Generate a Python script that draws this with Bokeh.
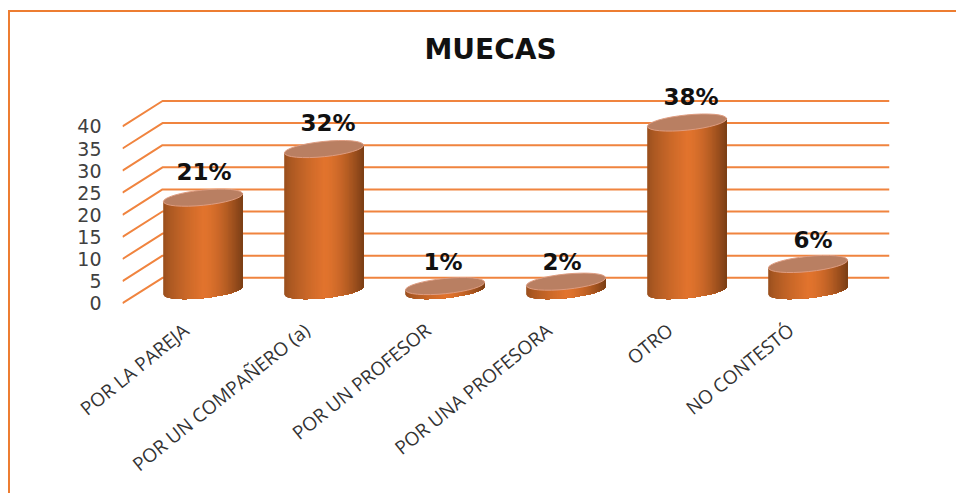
import math
from bokeh.embed import file_html
from bokeh.resources import INLINE
from bokeh.plotting import figure
from bokeh.models import Range1d, FixedTicker
from bokeh.core.properties import value

categories = ["POR LA PAREJA", "POR UN COMPAÑERO (a)", "POR UN PROFESOR",
              "POR UNA PROFESORA", "OTRO", "NO CONTESTÓ"]
values = [21, 32, 1, 2, 38, 6]
labels = ["21%", "32%", "1%", "2%", "38%", "6%"]
y_ticks = [0, 5, 10, 15, 20, 25, 30, 35, 40]
title = "MUECAS"

W, H = 956, 493
# frame in canvas px
F_L, F_R, F_T, F_B = 122, 889, 70, 322
ZERO_Y = 302.7         # canvas y of value 0 on the front plane
PX_X = 121.0           # px per category
PX_Y = 4.42            # px per value unit
DX, DY = 40.0, 25.4    # depth of the 3D floor in px
RX, RY, TILT = 39.8, 7.6, 5.8   # cylinder ellipse
LABEL_SHIFT = 3 / PX_X
LABEL_DX = [1, 4, -2, -4, 4, 5]
LABEL_DY = [-26, -26, -24, -20, -26, -24]

BORDER = "#ED7D31"
p = figure(width=W, height=H, output_backend="svg", toolbar_location=None,
           x_range=Range1d(-0.5, -0.5 + (F_R - F_L) / PX_X),
           y_range=Range1d(-(F_B - ZERO_Y) / PX_Y, (ZERO_Y - F_T) / PX_Y),
           min_border_left=F_L, min_border_right=W - F_R,
           min_border_top=F_T, min_border_bottom=H - F_B,
           title=title, border_fill_color=None, background_fill_color=None,
           styles={"background":
                   f"linear-gradient({BORDER},{BORDER}) 8px 10px/100% 2px no-repeat,"
                   f"linear-gradient({BORDER},{BORDER}) 8px 10px/2px 100% no-repeat"})
p.title.align = "left"
p.title.offset = 302
p.title.text_font = "DejaVu Sans"
p.title.text_font_size = "28px"
p.title.text_font_style = "bold"
p.title.text_color = "#111111"
p.outline_line_color = None
p.grid.visible = False

ax = p.xaxis[0]
ax.ticker = FixedTicker(ticks=[i + LABEL_SHIFT for i in range(len(categories))])
ax.major_label_overrides = {i + LABEL_SHIFT: c for i, c in enumerate(categories)}
ax.major_label_orientation = math.radians(39)
ax.major_label_text_font = "Open Sans"
ax.major_label_text_font_size = "19px"
ax.major_label_text_color = "#333333"
ax.major_label_standoff = -1
ax.axis_line_color = None
ax.major_tick_line_color = None
ax.minor_tick_line_color = None

ay = p.yaxis[0]
ay.ticker = FixedTicker(ticks=y_ticks)
ay.major_label_text_font = "DejaVu Sans"
ay.major_label_text_font_size = "19px"
ay.major_label_text_color = "#404040"
ay.major_label_standoff = 15
ay.axis_line_color = None
ay.major_tick_line_color = None
ay.minor_tick_line_color = None

# Gridlines: front edge -> back wall -> right end
dx_u, dy_u = DX / PX_X, DY / PX_Y
x0 = p.x_range.start
x1 = p.x_range.end
p.multi_line([[x0, x0 + dx_u, x1] for _ in y_ticks],
             [[t, t + dy_u, t + dy_u] for t in y_ticks],
             line_color="#F0843F", line_width=2)


def lerp(a, b, t):
    return tuple(a[k] + (b[k] - a[k]) * t for k in range(3))


def shade(t):
    """t in 0..1 across the cylinder"""
    dark_l, mid, dark_r = (150, 78, 30), (226, 116, 46), (122, 62, 22)
    if t < 0.5:
        c = lerp(dark_l, mid, (t / 0.5) ** 0.7)
    else:
        c = lerp(mid, dark_r, ((t - 0.5) / 0.5) ** 1.6)
    return "#%02x%02x%02x" % tuple(int(v) for v in c)


def lower_edge(t):
    """px offset (upwards) of the lower rim of a tilted ellipse at t in -1..1"""
    th = math.radians(TILT)
    return RX * t * math.tan(th) - RY * math.sqrt(max(0.0, 1 - t * t)) / math.cos(th)


N = 60
ts = [-1 + 2 * k / N for k in range(N + 1)]
xs, ys, cols = [], [], []
top_x, top_y = [], []
for i, v in enumerate(values):
    cx = i + (DX / 2) / PX_X
    base = (DY / 2) / PX_Y
    top_x.append(cx)
    top_y.append(base + v)
    # each band reaches to the right edge and the next band paints over it, so no seams
    for k in range(N):
        run = ts[k:]
        low_x = [cx + t * RX / PX_X for t in run]
        low_y = [base + lower_edge(t) / PX_Y for t in run]
        up_y = [base + v + RX * t * math.tan(math.radians(TILT)) / PX_Y for t in (run[-1], run[0])]
        xs.append(low_x + [low_x[-1], low_x[0]])
        ys.append(low_y + up_y)
        cols.append(shade((k + 0.5) / N))

p.patches(xs, ys, fill_color=cols, line_color=None)
p.ellipse(top_x, top_y, width=2 * RX, height=2 * RY, width_units="screen",
          height_units="screen", angle=TILT, angle_units="deg",
          fill_color="#B97F62", line_color="#DE9C80", line_width=1)
p.text(top_x, top_y, text=labels, x_offset=LABEL_DX, y_offset=LABEL_DY, text_align="center",
       text_baseline="middle", text_font=value("DejaVu Sans"),
       text_font_style="bold", text_font_size="23px", text_color="#111111")

open("out.html", "w").write(file_html(p, INLINE))
